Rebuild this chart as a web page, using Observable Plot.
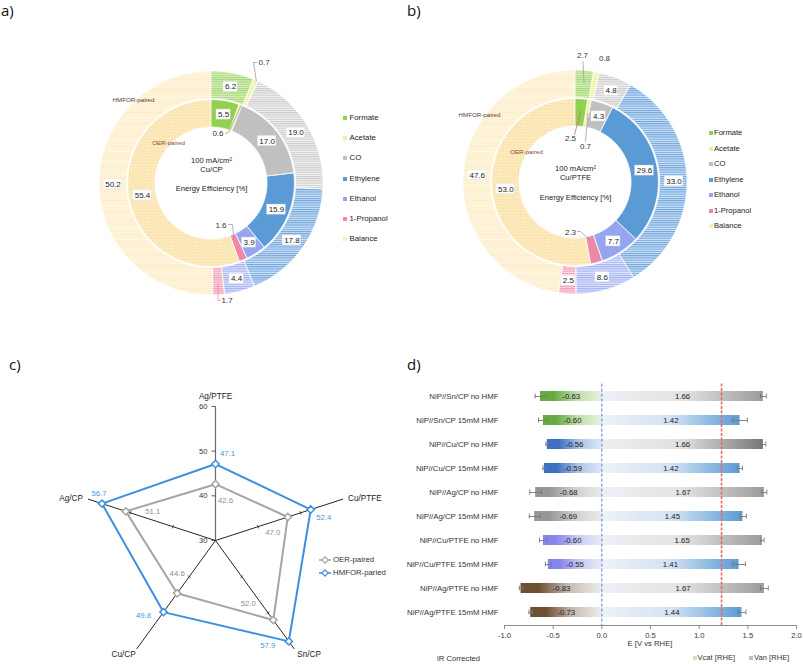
<!DOCTYPE html>
<html>
<head>
<meta charset="utf-8">
<script src="https://cdn.jsdelivr.net/npm/d3@7"></script>
<script src="https://cdn.jsdelivr.net/npm/@observablehq/plot@0.6"></script>
<style>
html,body{margin:0;padding:0;background:#fff;}
#fig{position:relative;width:803px;height:664px;overflow:hidden;font-family:"Liberation Sans",Arial,sans-serif;}
#fig .t{position:absolute;line-height:1;white-space:nowrap;}
#fig svg{overflow:visible;}
</style>
</head>
<body>
<div id="fig"></div>
<script>
// ---------------- data ----------------
const products = ["Formate","Acetate","CO","Ethylene","Ethanol","1-Propanol","Balance"];
const cuCP_OER     = [5.5, 0.6, 17.0, 15.9, 3.9, 1.6, 55.4];
const cuCP_HMFOR   = [6.2, 0.7, 19.0, 17.8, 4.4, 1.7, 50.2];
const cuPTFE_OER   = [2.5, 0.7, 4.3, 29.6, 7.7, 2.3, 53.0];
const cuPTFE_HMFOR = [2.7, 0.8, 4.8, 33.0, 8.6, 2.5, 47.6];

const radarAxes  = ["Ag/PTFE","Cu/PTFE","Sn/CP","Cu/CP","Ag/CP"];
const radarOER   = [42.6, 47.0, 52.0, 44.6, 51.1];
const radarHMFOR = [47.1, 52.4, 57.9, 49.8, 56.7];
const radarTicks = [30, 40, 50, 60];

const cells = ["NiP//Sn/CP no HMF","NiP//Sn/CP 15mM HMF","NiP//Cu/CP no HMF","NiP//Cu/CP 15mM HMF","NiP//Ag/CP no HMF","NiP//Ag/CP 15mM HMF","NiP//Cu/PTFE no HMF","NiP//Cu/PTFE 15mM HMF","NiP//Ag/PTFE no HMF","NiP//Ag/PTFE 15mM HMF"];
const vcat    = [-0.63,-0.60,-0.56,-0.59,-0.68,-0.69,-0.60,-0.55,-0.83,-0.73];
const vcatErr = [0.055,0.05,0.015,0.015,0.06,0.055,0.04,0.03,0.018,0.018];
const van     = [1.66,1.42,1.66,1.42,1.67,1.45,1.65,1.41,1.67,1.44];
const vanErr  = [0.03,0.075,0.025,0.025,0.025,0.035,0.017,0.065,0.04,0.04];
const refPotentials = [0, 1.23];
const eTicks = [-1.0,-0.5,0.0,0.5,1.0,1.5,2.0];

// ---------------- styles ----------------
const FONT = "Liberation Sans, Arial, sans-serif";
const innerFill = {Formate:"#92d050", Acetate:"#eef1a0", CO:"#c0c0c0", Ethylene:"#5b9bd5", Ethanol:"#97a5f1", "1-Propanol":"#ef88a6", Balance:null};
const hatchBg = {Formate:"#dcefc8", Acetate:"#f7f8cf", CO:"#f3f3f3", Ethylene:"#d3e4f5", Ethanol:"#e3e7fc", "1-Propanol":"#fbdfe7", Balance:"#fff8e8"};
const hatchFg = {Formate:"#a2d86e", Acetate:"#eef09c", CO:"#cbcbcb", Ethylene:"#6fa7de", Ethanol:"#a3b0f3", "1-Propanol":"#f19cb5", Balance:"#fdecc4"};
const legendSwatch = {Formate:"#92d050", Acetate:"#eef19c", CO:"#c0c0c0", Ethylene:"#5b9bd5", Ethanol:"#97a5f1", "1-Propanol":"#ef88a6", Balance:"#fdebbb"};
const catStyle = {"Sn/CP":["#67ab3f","#e6f2dc"], "Cu/CP":["#3d6fc4","#dde8f6"], "Ag/CP":["#969696","#e9e9e9"], "Cu/PTFE":["#8585ee","#e8e8f6"], "Ag/PTFE":["#6c5030","#ececec"]};
const vanHMF = ["#eef2f8","#d3e3f3","#5b9bd5"];
const vanNo  = ["#efeff6","#e3e3e3","#9c9c9c"];
const vanNoDark = ["#eeeef4","#e0e0e0","#787878"];

const fig = document.getElementById("fig");
function put(node, left, top){ node.style.position="absolute"; node.style.left=left+"px"; node.style.top=top+"px"; fig.appendChild(node); return node; }
function label(text, x, y, {size=8, anchor="start", color="#222", family=null}={}) {
  const d = document.createElement("div"); d.className="t"; d.textContent = text;
  d.style.fontSize = size+"px"; d.style.color = color; if (family) d.style.fontFamily = family;
  const tx = anchor==="middle" ? "-50%" : anchor==="end" ? "-100%" : "0";
  d.style.transform = `translate(${tx},-50%)`;
  return put(d, x, y);
}
function swatch(x, y, color, s=4){ const d=document.createElement("div"); d.style.width=s+"px"; d.style.height=s+"px"; d.style.background=color; return put(d, x-s/2, y-s/2); }

// ---------------- donuts ----------------
const RING = {in0: 56, in1: 83.4, out0: 84.6, out1: 112};
const polar = (a, r) => [r*Math.sin(a), -r*Math.cos(a)];

function donut({pid, W, H, cx, cy, inner, outer, center, names, leaders}) {
  const pie = d3.pie().sort(null).value(d => d);
  const segs = [];
  [["in", inner, RING.in0, RING.in1], ["out", outer, RING.out0, RING.out1]].forEach(([ring, vals, r0, r1]) => {
    pie(vals).forEach((a, i) => segs.push({ring, i, v: vals[i], a0: a.startAngle, a1: a.endAngle, mid: (a.startAngle + a.endAngle)/2, r0, r1}));
  });
  const fillOf = s => s.ring === "in" ? (innerFill[products[s.i]] ?? `url(#${pid}-dots)`) : `url(#${pid}-h${s.i})`;
  const arcRows = s => {
    const n = Math.max(2, Math.ceil((s.a1 - s.a0)/0.015) + 1);
    return d3.range(n).map(j => { const a = s.a0 + (s.a1 - s.a0)*j/(n-1);
      return {x1: s.r1*Math.sin(a), y1: -s.r1*Math.cos(a), x2: s.r0*Math.sin(a), y2: -s.r0*Math.cos(a)}; });
  };
  const defs = () => {
    const d = d3.create("svg:defs");
    products.forEach((p, i) => {
      const pat = d.append("pattern").attr("id", `${pid}-h${i}`).attr("patternUnits","userSpaceOnUse").attr("width", 6).attr("height", 2.2);
      pat.append("rect").attr("width", 6).attr("height", 2.2).attr("fill", hatchBg[p]);
      pat.append("rect").attr("width", 6).attr("height", 1.1).attr("fill", hatchFg[p]);
    });
    const dp = d.append("pattern").attr("id", `${pid}-dots`).attr("patternUnits","userSpaceOnUse").attr("width", 3).attr("height", 3);
    dp.append("rect").attr("width", 3).attr("height", 3).attr("fill", "#fdebbd");
    dp.append("circle").attr("cx", 1).attr("cy", 1).attr("r", 0.6).attr("fill", "#f1cb8e");
    return d.node();
  };
  const lkey = new Set(leaders.map(l => l.ring + l.i));
  const textW = t => [...t].reduce((w, c) => w + (c === "." ? 2.2 : 4.45), 0) + 3;
  const boxed = segs.filter(s => !lkey.has(s.ring + s.i)).map(s => {
    const [x, y] = polar(s.mid, s.ring === "in" ? 70 : 98.5); const t = s.v.toFixed(1);
    return {x, y, t, w: textW(t)};
  });
  const free = leaders.map(l => {
    const s = segs.find(q => q.ring === l.ring && q.i === l.i);
    return {l, t: s.v.toFixed(1), pts: l.r0 ? [polar(s.mid, l.r0), ...l.path] : []};
  });
  const marks = [
    defs,
    ...segs.map(s => Plot.area(arcRows(s), {x1:"x1", y1:"y1", x2:"x2", y2:"y2", fill: fillOf(s), stroke:"#fff", strokeWidth: 0.8})),
    ...free.filter(f => f.pts.length).map(f => Plot.line(f.pts, {x: d => d[0], y: d => d[1], stroke: f.l.color || "#a0a0a0", strokeWidth: 0.8})),
    Plot.rect(boxed, {x1: d => d.x - d.w/2, x2: d => d.x + d.w/2, y1: d => d.y - 5, y2: d => d.y + 5, fill: "white", stroke: "#e2e2e2", strokeWidth: 0.4}),
    Plot.text(boxed, {x: "x", y: "y", text: "t", fontSize: 8, fill: "#222"}),
    ...["start","middle","end"].map(an => Plot.text(free.filter(f => f.l.anchor === an), {x: f => f.l.label[0], y: f => f.l.label[1], text: "t", textAnchor: an, fontSize: 8, fill: "#333"})),
    Plot.text(center, {x: 0, y: "dy", text: "t", fontSize: 7.6, fill: "#222"}),
    Plot.text(names, {x: "x", y: "y", text: "t", fill: "c", fontSize: 6.2})
  ];
  return Plot.plot({
    width: W, height: H, margin: 0,
    x: {domain: [-cx, W - cx], range: [0, W], axis: null},
    y: {domain: [-cy, H - cy], range: [0, H], axis: null},
    color: {type: "identity"},
    style: {fontFamily: FONT, background: "transparent"},
    marks
  });
}

const svgA = donut({
  pid: "pa", W: 400, H: 320, cx: 211, cy: 183, inner: cuCP_OER, outer: cuCP_HMFOR,
  center: [{t:"100 mA/cm²", dy:-23}, {t:"Cu/CP", dy:-14}, {t:"Energy Efficiency [%]", dy:5}],
  names: [{t:"HMFOR-paired", x:-78, y:-83, c:"#5a3c3c"}, {t:"OER-paired", x:-43, y:-40, c:"#8a4a3a"}],
  leaders: [
    {ring:"out", i:1, r0:112, path:[[42,-121],[45,-121]], label:[47,-121], anchor:"start"},
    {ring:"in",  i:1, r0:84,  path:[[17,-51],[14,-50]],   label:[12,-50],  anchor:"end"},
    {ring:"in",  i:5, r0:58,  path:[[21,41],[17,41]],     label:[15,42],   anchor:"end"},
    {ring:"out", i:5, r0:100, path:[[6.5,117],[9,117]],   label:[10,117],  anchor:"start", color:"#e890a8"}
  ]
});
put(svgA, 0, 0);

const svgB = donut({
  pid: "pb", W: 403, H: 320, cx: 175, cy: 182, inner: cuPTFE_OER, outer: cuPTFE_HMFOR,
  center: [{t:"100 mA/cm²", dy:-14}, {t:"Cu/PTFE", dy:-4.5}, {t:"Energy Efficiency [%]", dy:15}],
  names: [{t:"HMFOR-paired", x:-96, y:-67, c:"#5a3c3c"}, {t:"OER-paired", x:-49, y:-30, c:"#8a4a3a"}],
  leaders: [
    {ring:"out", i:0, r0:100, path:[[7.5,-121]],          label:[7,-127],  anchor:"middle"},
    {ring:"out", i:1, r0:null,                            label:[29,-124], anchor:"middle"},
    {ring:"in",  i:0, r0:72,  path:[[-1,-48]],            label:[-5,-44],  anchor:"middle", color:"#d9667f"},
    {ring:"in",  i:1, r0:70,  path:[[10,-41]],            label:[10,-36],  anchor:"middle"},
    {ring:"in",  i:5, r0:60,  path:[[5,49],[2,49]],       label:[-5,50],   anchor:"middle"}
  ]
});
put(svgB, 400, 0);

products.forEach((p, i) => {
  const ya = 118 + i*20.2; swatch(345, ya, legendSwatch[p]); label(p, 349.5, ya, {size: 7.8});
  const yb = 133 + i*15.5; swatch(710.5, yb, legendSwatch[p]); label(p, 714, yb, {size: 7.6});
});

// ---------------- radar ----------------
const S = 4.47, rcx = 215, rcy = 210, RW = 400, RH = 334;
const ang = k => k*2*Math.PI/radarAxes.length;
const pt = (v, k) => [(v - 30)*Math.sin(ang(k)), (v - 30)*Math.cos(ang(k))];
const oerLabelOffset   = [[10,16],[-15,15],[-25,-17],[0,-20],[27,0]];
const hmforLabelOffset = [[12,-11],[13,8],[-21,4],[-20,3],[-3,-10]];
const radarNameOffset  = [[0,-10,"middle"],[5,-1,"start"],[3,5,"start"],[-1,5,"end"],[-5,-1,"end"]];
const closed = vals => [...vals, vals[0]].map((v, j) => pt(v, j % vals.length));
const ptsO = radarOER.map((v, k) => ({p: pt(v, k), v, off: oerLabelOffset[k]}));
const ptsH = radarHMFOR.map((v, k) => ({p: pt(v, k), v, off: hmforLabelOffset[k]}));
const axisEnds = radarAxes.map((name, k) => ({name, k, e: pt(60, k), off: radarNameOffset[k]}));
const tickSegs = [];
radarAxes.forEach((_, k) => {
  const th = ang(k), sn = Math.sin(th), cs = Math.cos(th);
  if (k === 0) radarTicks.forEach(t => tickSegs.push({x1: -4/S, y1: t - 30, x2: 0, y2: t - 30}));
  else [40, 50].forEach(t => { const r = t - 30, h = 1.8/S;
    tickSegs.push({x1: r*sn - cs*h, y1: r*cs + sn*h, x2: r*sn + cs*h, y2: r*cs - sn*h}); });
});
const svgC = Plot.plot({
  width: RW, height: RH, margin: 0,
  x: {domain: [-rcx/S, (RW - rcx)/S], range: [0, RW], axis: null},
  y: {domain: [-(RH - rcy)/S, rcy/S], range: [RH, 0], axis: null},
  style: {fontFamily: FONT, background: "transparent"},
  marks: [
    Plot.link(axisEnds.filter(a => a.k === 0), {x1: 0, y1: 0, x2: a => a.e[0], y2: a => a.e[1], stroke: "#6a6a6a", strokeWidth: 1.2}),
    Plot.link(axisEnds.filter(a => a.k > 0), {x1: 0, y1: 0, x2: a => a.e[0], y2: a => a.e[1], stroke: "#262626", strokeWidth: 1}),
    Plot.link(tickSegs, {x1: "x1", y1: "y1", x2: "x2", y2: "y2", stroke: "#333", strokeWidth: 0.8}),
    Plot.line(closed(radarOER), {x: d => d[0], y: d => d[1], stroke: "#a5a5a5", strokeWidth: 2}),
    Plot.line(closed(radarHMFOR), {x: d => d[0], y: d => d[1], stroke: "#3d8fe0", strokeWidth: 2}),
    Plot.dot(ptsO, {x: d => d.p[0], y: d => d.p[1], symbol: "diamond2", r: 3.3, stroke: "#a5a5a5", fill: "white", strokeWidth: 1.5}),
    Plot.dot(ptsH, {x: d => d.p[0], y: d => d.p[1], symbol: "diamond2", r: 3.3, stroke: "#3d8fe0", fill: "white", strokeWidth: 1.5}),
    Plot.text(ptsO, {x: d => d.p[0] + d.off[0]/S, y: d => d.p[1] - d.off[1]/S, text: d => d.v.toFixed(1), fontSize: 7.8, fill: "#8f8f8f"}),
    Plot.text(ptsH, {x: d => d.p[0] + d.off[0]/S, y: d => d.p[1] - d.off[1]/S, text: d => d.v.toFixed(1), fontSize: 7.8, fill: "#4d97e0"}),
    ...["start","middle","end"].map(an => Plot.text(axisEnds.filter(a => a.off[2] === an), {x: a => a.e[0] + a.off[0]/S, y: a => a.e[1] - a.off[1]/S, text: "name", textAnchor: an, fontSize: 8.2, fill: "#222"})),
    Plot.text(radarTicks, {x: 0, y: d => d - 30, text: d => String(d), dx: -8, textAnchor: "end", fontSize: 7.6, fill: "#333"})
  ]
});
put(svgC, 0, 330);
{
  const lg = document.createElement("div");
  lg.innerHTML = `<svg width="14" height="26" style="position:absolute;left:0;top:0;overflow:visible">
    <line x1="0" x2="12" y1="4" y2="4" stroke="#a5a5a5" stroke-width="1.5"/><rect x="3.8" y="1.8" width="4.4" height="4.4" transform="rotate(45 6 4)" fill="white" stroke="#a5a5a5" stroke-width="1.2"/>
    <line x1="0" x2="12" y1="17" y2="17" stroke="#3d8fe0" stroke-width="1.5"/><rect x="3.8" y="14.8" width="4.4" height="4.4" transform="rotate(45 6 17)" fill="white" stroke="#3d8fe0" stroke-width="1.2"/></svg>`;
  put(lg, 319, 556);
  label("OER-paired", 333, 560, {size: 7.8, color: "#333"});
  label("HMFOR-paried", 333, 573, {size: 7.8, color: "#333"});
}

// ---------------- bars ----------------
const rows = cells.map((c, i) => ({cell: c, i, vcat: vcat[i], vcatErr: vcatErr[i], van: van[i], vanErr: vanErr[i],
  el: c.match(/NiP\/\/(\S+)/)[1], hmf: c.includes("15mM")}));
const defsD = () => {
  const d = d3.create("svg:defs");
  rows.forEach(r => {
    const [c, light] = catStyle[r.el];
    const g1 = d.append("linearGradient").attr("id", `vc${r.i}`).attr("x1", 0).attr("x2", 1).attr("y1", 0).attr("y2", 0);
    [[0, c], [0.22, c], [0.6, d3.interpolateRgb(c, light)(0.7)], [1, light]].forEach(([o, col]) => g1.append("stop").attr("offset", o).attr("stop-color", col));
    const vs = r.hmf ? vanHMF : (r.el === "Cu/CP" ? vanNoDark : vanNo);
    const g2 = d.append("linearGradient").attr("id", `va${r.i}`).attr("x1", 0).attr("x2", 1).attr("y1", 0).attr("y2", 0);
    [[0, vs[0]], [0.5, vs[1]], [1, vs[2]]].forEach(([o, col]) => g2.append("stop").attr("offset", o).attr("stop-color", col));
  });
  return d.node();
};
const svgD = Plot.plot({
  width: 403, height: 334, marginLeft: 104, marginRight: 7, marginTop: 53.6, marginBottom: 39,
  x: {domain: [-1, 2], label: null, axis: null},
  y: {domain: cells, paddingInner: 0.6, paddingOuter: 0.3, label: null, axis: null},
  style: {fontFamily: FONT, fontSize: "7.6px", color: "#333", background: "transparent"},
  marks: [
    defsD,
    ...rows.map(r => Plot.barX([r], {y: "cell", x1: 0, x2: "vcat", fill: `url(#vc${r.i})`})),
    ...rows.map(r => Plot.barX([r], {y: "cell", x1: 0, x2: "van", fill: `url(#va${r.i})`})),
    Plot.ruleX(refPotentials.slice(0, 1), {stroke: "#4a7fd6", strokeWidth: 1, strokeDasharray: "3,2"}),
    Plot.ruleX(refPotentials.slice(1), {stroke: "#e36b6b", strokeWidth: 1.6, strokeDasharray: "3,1.5"}),
    Plot.ruleY(rows, {y: "cell", x1: d => d.vcat - d.vcatErr, x2: d => d.vcat + d.vcatErr, stroke: "#777", strokeWidth: 0.9}),
    Plot.ruleY(rows, {y: "cell", x1: d => d.van - d.vanErr, x2: d => d.van + d.vanErr, stroke: "#777", strokeWidth: 0.9}),
    ...[d => d.vcat - d.vcatErr, d => d.vcat + d.vcatErr, d => d.van - d.vanErr, d => d.van + d.vanErr].map(f =>
      Plot.tickX(rows, {y: "cell", x: f, stroke: "#777", strokeWidth: 0.9, insetTop: 2.5, insetBottom: 2.5})),
    Plot.text(rows, {y: "cell", x: d => d.vcat/2, text: d => d.vcat.toFixed(2), fontSize: 7.8, fill: "#222"}),
    Plot.text(rows, {y: "cell", x: d => d.van/2, text: d => d.van.toFixed(2), fontSize: 7.8, fill: "#222"}),
    Plot.frame({anchor: "bottom", stroke: "#8c8c8c"}),
    Plot.axisX({ticks: eTicks, tickFormat: d => d.toFixed(1), tickSize: 4, tickPadding: 3, stroke: "#8c8c8c", fill: "#333", fontSize: 7.6, label: null}),
    Plot.axisY({tickSize: 0, tickPadding: 6, fill: "#333", fontSize: 7.8, label: null})
  ]
});
put(svgD, 400, 330);
label("E [V vs RHE]", 650, 644, {size: 7.7, anchor: "middle", color: "#333"});
label("iR Corrected", 437, 659, {size: 7.7, color: "#333"});
swatch(694.5, 658, "#cfe3b9"); label("Vcat [RHE]", 697.5, 658, {size: 7.6, color: "#333"});
swatch(751, 658, "#bdbdbd"); label("Van [RHE]", 754, 658, {size: 7.6, color: "#333"});

// ---------------- panel letters ----------------
label("a)", 1, 10, {size: 15, family: "Open Sans, sans-serif", color: "#111"});
label("b)", 407, 10, {size: 15, family: "Open Sans, sans-serif", color: "#111"});
label("c)", 9, 364, {size: 15, family: "Open Sans, sans-serif", color: "#111"});
label("d)", 407, 364, {size: 15, family: "Open Sans, sans-serif", color: "#111"});
</script>
</body>
</html>
